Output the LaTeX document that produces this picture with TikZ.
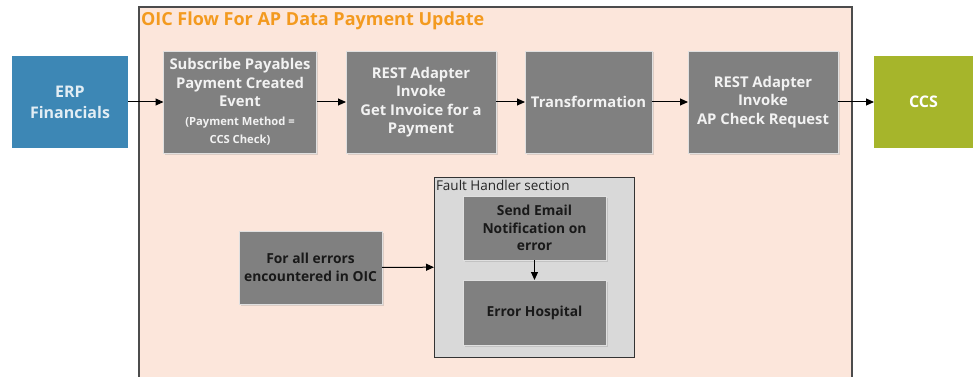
\documentclass[tikz,border=0pt]{standalone}
\usepackage{fontspec}
\setmainfont{Open Sans}
\usetikzlibrary{arrows.meta,shadows}
\definecolor{erpblue}{HTML}{3D87B5}
\definecolor{ccsgreen}{HTML}{A6B52B}
\definecolor{peach}{HTML}{FCE6DB}
\definecolor{titleorange}{HTML}{F39A1F}
\definecolor{boxgray}{HTML}{808080}
\definecolor{fhgray}{HTML}{D9D9D9}
\begin{document}
\begin{tikzpicture}[x=1pt,y=-1pt,
  every node/.style={inner sep=0pt,outer sep=0pt},
  graybox/.style={fill=boxgray,draw=white!88!black,line width=0.8pt,
    drop shadow={shadow xshift=1.5pt,shadow yshift=-1.5pt,opacity=0.25},
    align=center,font=\fontsize{14.8}{18.5}\selectfont\bfseries,text=white!95!black},
  darkbox/.style={graybox,text=black!90,font=\fontsize{13.8}{17.5}\selectfont\bfseries},
  sidebox/.style={align=center,font=\fontsize{16}{21}\selectfont\bfseries},
  arr/.style={-{Triangle[length=8pt,width=7pt]},line width=1pt,black}
]
\useasboundingbox (0,0) rectangle (974,377);
\fill[white] (0,0) rectangle (974,377);
% outer frame
\draw[fill=peach,draw=black!70,line width=1.2pt] (139,400) -- (139,7) -- (852,7) -- (852,400);
\node[anchor=west,text=titleorange,font=\fontsize{18}{20}\selectfont\bfseries] (title) at (141,21) {OIC Flow For AP Data Payment Update};
% side boxes
\node[sidebox,fill=erpblue,text=white!85!erpblue,minimum width=116pt,minimum height=92pt] (erp) at (70,102) {ERP\\Financials};
\node[sidebox,fill=ccsgreen,text=white,minimum width=99pt,minimum height=92pt] (ccs) at (923.5,102) {CCS};
% top row
\node[graybox,minimum width=153pt,minimum height=102pt] (sub) at (240,102)
  {Subscribe Payables\\Payment Created\\Event\\{\fontsize{11.2}{18.5}\selectfont(Payment Method =}\\{\fontsize{11.2}{18.5}\selectfont CCS Check)}};
\node[graybox,minimum width=150pt,minimum height=102pt] (rest1) at (421,102)
  {REST Adapter\\Invoke\\Get Invoice for a\\Payment};
\node[graybox,minimum width=127pt,minimum height=102pt] (trans) at (588.5,102) {Transformation};
\node[graybox,minimum width=150pt,minimum height=102pt] (rest2) at (763,102)
  {REST Adapter\\Invoke\\AP Check Request};
\draw[arr] (erp) -- (sub);
\draw[arr] (sub) -- (rest1);
\draw[arr] (rest1) -- (trans);
\draw[arr] (trans) -- (rest2);
\draw[arr] (rest2) -- (ccs);
% fault handler
\node[fill=fhgray,draw=black!80,line width=1pt,minimum width=200pt,minimum height=180pt] (fh) at (534,267) {};
\node[anchor=north west,font=\fontsize{13.5}{15}\selectfont,text=black!85] (fhlabel) at (436,180.5) {Fault Handler section};
\node[darkbox,minimum width=143pt,minimum height=64pt] (mail) at (534.5,228) {Send Email\\Notification on\\error};
\node[darkbox,minimum width=143pt,minimum height=65pt] (hosp) at (534.5,312.5) {Error Hospital};
\node[darkbox,minimum width=143pt,minimum height=73pt] (errs) at (310.5,267.5) {For all errors\\encountered in OIC};
\draw[arr] (errs) -- (fh);
\draw[arr] (mail) -- (hosp);
\end{tikzpicture}
\end{document}
